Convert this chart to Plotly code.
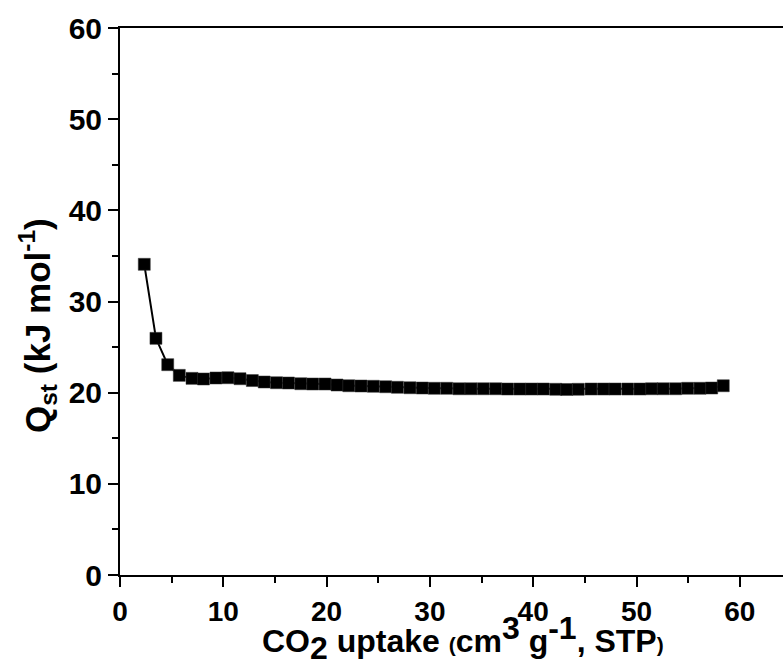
import plotly.graph_objects as go

# CO2 uptake (cm3 g-1, STP)
uptake = [2.35, 3.48, 4.62, 5.74, 6.97, 8.08, 9.29, 10.45, 11.62, 12.81,
          13.96, 15.15, 16.31, 17.50, 18.66, 19.85, 21.01, 22.15, 23.33, 24.52,
          25.72, 26.86, 28.07, 29.26, 30.43, 31.63, 32.82, 33.98, 35.17, 36.37,
          37.53, 38.72, 39.85, 40.98, 42.18, 43.24, 44.37, 45.60, 46.79, 47.92,
          49.15, 50.34, 51.47, 52.59, 53.79, 54.96, 56.15, 57.28, 58.40]
# Qst (kJ mol-1)
qst = [34.08, 25.96, 23.07, 21.90, 21.57, 21.50, 21.61, 21.64, 21.53, 21.33,
       21.17, 21.09, 21.06, 20.98, 20.95, 20.95, 20.84, 20.76, 20.73, 20.70,
       20.65, 20.59, 20.54, 20.51, 20.48, 20.48, 20.43, 20.43, 20.43, 20.43,
       20.40, 20.40, 20.40, 20.40, 20.37, 20.35, 20.37, 20.40, 20.40, 20.40,
       20.40, 20.40, 20.43, 20.43, 20.43, 20.48, 20.48, 20.51, 20.76]

x_ticks = [0, 10, 20, 30, 40, 50, 60]
y_ticks = [0, 10, 20, 30, 40, 50, 60]

W, H = 783, 668
ml, mr, mt, mb = 120, 0, 28, 93
pw = W - ml - mr
ph = H - mt - mb

fig = go.Figure()
fig.add_trace(go.Scatter(
    x=uptake, y=qst, mode="lines+markers",
    line=dict(color="black", width=2),
    marker=dict(symbol="square", size=12, color="black",
                line=dict(color="#333333", width=0.5)),
    showlegend=False,
))

fig.update_layout(
    width=W, height=H,
    margin=dict(l=ml, r=mr, t=mt, b=mb),
    plot_bgcolor="white", paper_bgcolor="white",
    xaxis=dict(
        range=[0, pw / 10.33], tickvals=x_ticks,
        ticktext=[str(v) for v in x_ticks],
        showgrid=False, zeroline=False,
        showline=True, linecolor="black", linewidth=2, mirror=True,
        ticks="outside", ticklen=10, tickwidth=2, tickcolor="black",
        minor=dict(dtick=5, ticks="outside", ticklen=6, tickwidth=2, tickcolor="black"),
        tickfont=dict(family="Liberation Sans, Arial", size=28, color="black", weight="bold"),
    ),
    yaxis=dict(
        range=[0, 60], tickvals=y_ticks,
        showgrid=False, zeroline=False,
        showline=True, linecolor="black", linewidth=2, mirror=False,
        ticks="outside", ticklen=10, tickwidth=2, tickcolor="black",
        minor=dict(dtick=5, ticks="outside", ticklen=6, tickwidth=2, tickcolor="black"),
        tickfont=dict(family="Liberation Sans, Arial", size=30, color="black", weight="bold"),
    ),
)

fig.add_annotation(
    text="Q<sub>st</sub> (kJ mol<sup>-1</sup>)",
    xref="paper", yref="paper",
    x=(37 - ml) / pw, y=(H - mb - 326) / ph,
    xanchor="center", yanchor="middle", textangle=-90, showarrow=False,
    font=dict(family="Liberation Sans, Arial", size=35, color="black", weight="bold"),
)

fig.add_annotation(
    text=("CO<sub><span style='font-size:32px'>2</span></sub> uptake "
          "<span style='font-size:21px'>(</span>cm<sup><span style='font-size:32px'>3</span></sup> "
          "g<sup><span style='font-size:32px'>-1</span></sup>, STP"
          "<span style='font-size:21px'>)</span>"),
    xref="paper", yref="paper",
    x=(463 - ml) / pw, y=(H - mb - 638) / ph,
    xanchor="center", yanchor="middle", showarrow=False,
    font=dict(family="Liberation Sans, Arial", size=32, color="black", weight="bold"),
)

fig.write_html("out.html",
               config={"displayModeBar": False},
               post_script="document.body.style.margin='0';document.body.style.overflow='hidden';")
